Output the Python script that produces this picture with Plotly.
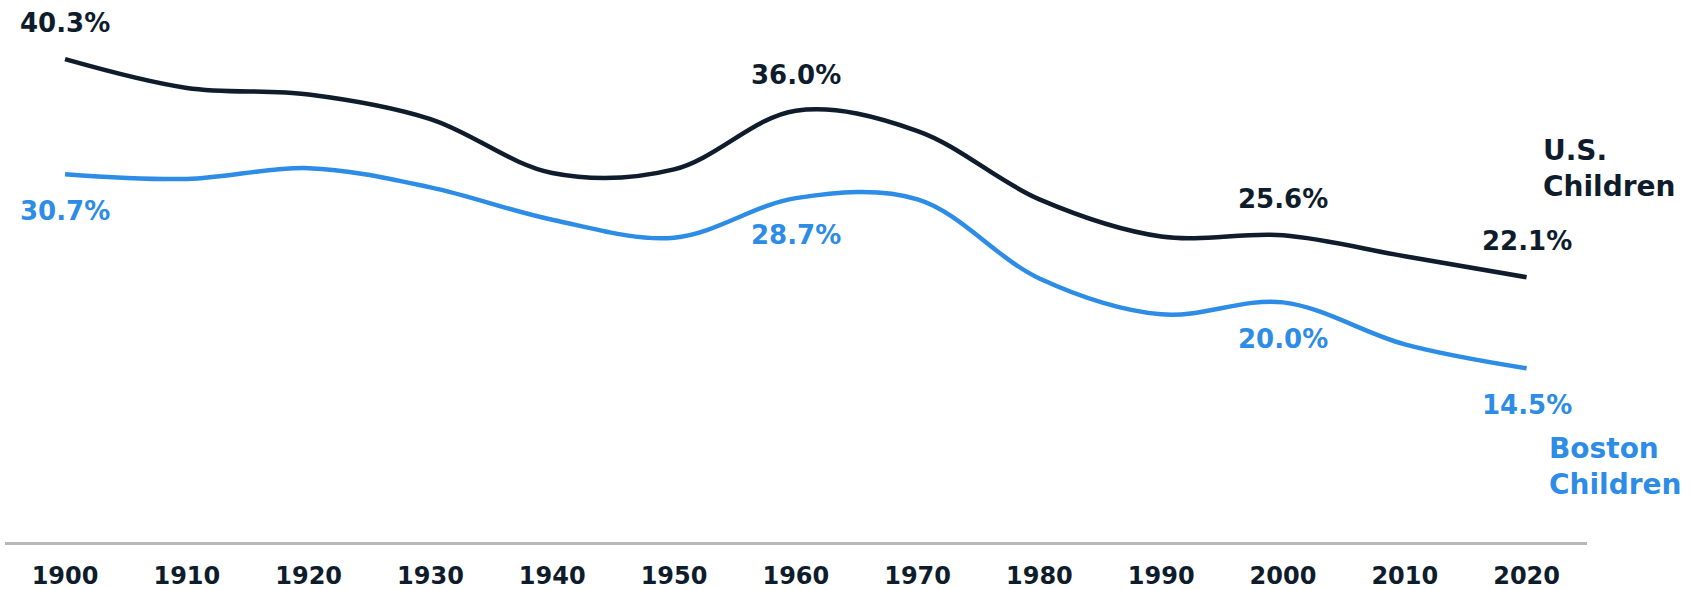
import plotly.graph_objects as go

years = [1900, 1910, 1920, 1930, 1940, 1950, 1960, 1970, 1980, 1990, 2000, 2010, 2020]
us_children = [40.3, 37.9, 37.35, 35.3, 30.8, 31.1, 36.0, 34.3, 28.6, 25.5, 25.6, 23.85, 22.1]
boston_children = [30.7, 30.3, 31.2, 29.6, 26.9, 25.4, 28.7, 28.6, 22.0, 19.0, 20.0, 16.5, 14.5]
tick_labels = [str(y) for y in years]

us_label_years = [1900, 1960, 2000, 2020]
us_label_text = ["40.3%", "36.0%", "25.6%", "22.1%"]
boston_label_years = [1900, 1960, 2000, 2020]
boston_label_text = ["30.7%", "28.7%", "20.0%", "14.5%"]

NAVY = "#0e1c2c"
BLUE = "#2d8ce5"
FONT = "DejaVu Sans"

fig = go.Figure()
fig.add_trace(go.Scatter(x=years, y=us_children, mode="lines",
                         line=dict(color=NAVY, width=4.5, shape="spline", smoothing=1.0),
                         hoverinfo="skip", showlegend=False))
fig.add_trace(go.Scatter(x=years, y=boston_children, mode="lines",
                         line=dict(color=BLUE, width=4.5, shape="spline", smoothing=1.0),
                         hoverinfo="skip", showlegend=False))

annotations = []
for yr, txt in zip(us_label_years, us_label_text):
    annotations.append(dict(x=yr, y=us_children[years.index(yr)], xref="x", yref="y",
                            text=txt, showarrow=False, yshift=36,
                            font=dict(family=FONT, size=26, color=NAVY, weight=700)))
for yr, txt in zip(boston_label_years, boston_label_text):
    annotations.append(dict(x=yr, y=boston_children[years.index(yr)], xref="x", yref="y",
                            text=txt, showarrow=False, yshift=-37,
                            font=dict(family=FONT, size=26, color=BLUE, weight=700)))

# plot area: x 5..1587, y 40..542 (page pixels)
PW, PH = 1582, 502
annotations.append(dict(x=(1541 - 5) / PW, y=(542 - 168) / PH, xref="paper", yref="paper",
                        xanchor="left", yanchor="middle", align="left",
                        text="U.S.<br>Children", showarrow=False,
                        font=dict(family=FONT, size=28, color=NAVY, weight=700)))
annotations.append(dict(x=(1547 - 5) / PW, y=(542 - 466) / PH, xref="paper", yref="paper",
                        xanchor="left", yanchor="middle", align="left",
                        text="Boston<br>Children", showarrow=False,
                        font=dict(family=FONT, size=28, color=BLUE, weight=700)))

fig.update_layout(
    width=1698, height=590,
    margin=dict(l=5, r=111, t=40, b=48, autoexpand=False),
    paper_bgcolor="white", plot_bgcolor="white",
    annotations=annotations,
    xaxis=dict(range=[1895.07, 2024.96], tickmode="array", tickvals=years, ticktext=tick_labels,
               showgrid=False, zeroline=False, showline=True, linecolor="#b8b8b8", linewidth=3,
               ticks="", ticklabelstandoff=10, automargin=False,
               tickfont=dict(family=FONT, size=24, color=NAVY, weight=700)),
    yaxis=dict(range=[0, 41.9], visible=False, showgrid=False, zeroline=False, automargin=False),
)

fig.write_html(
    "out.html",
    config={"displayModeBar": False},
    post_script="document.documentElement.style.margin='0';document.body.style.margin='0';"
                "document.body.style.overflow='hidden';",
)
